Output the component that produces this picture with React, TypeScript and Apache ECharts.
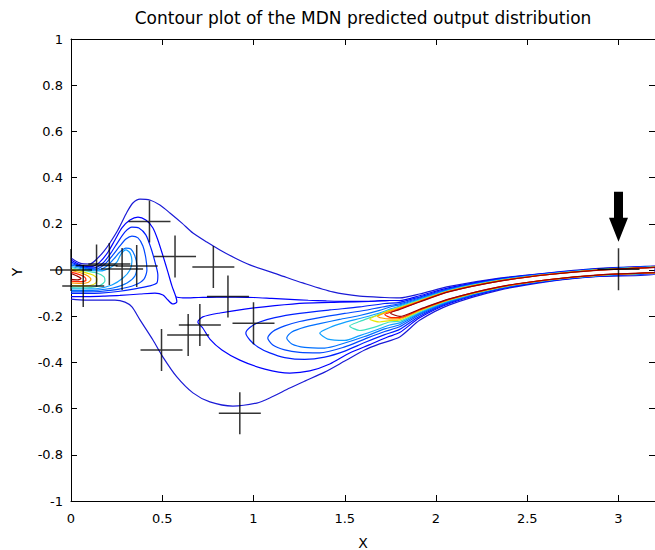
import React, { useEffect, useRef } from "react";
import * as echarts from "echarts";

const TITLE = "Contour plot of the MDN predicted output distribution";
const X_LABEL = "X";
const Y_LABEL = "Y";

// jet-like contour level colours, outermost (1) to innermost (11)
const LEVEL_COLORS = [
  "#1a1ad6", "#0000ff", "#0020ff", "#0048ff", "#0070ff", "#10a0ff",
  "#40e0c0", "#e6e600", "#ff9900", "#ff2200", "#990000",
];

// training points (crosses)
const CROSS_X = [0.0, 0.067, 0.14, 0.21, 0.28, 0.36, 0.43, 0.57, 0.78, 0.86, 1.0, 0.706, 0.642, 0.496, 0.925, 3.0];
const CROSS_Y = [0.0, -0.069, 0.02, 0.026, 0.004, 0.017, 0.21, 0.058, 0.013, -0.115, -0.23, -0.238, -0.281, -0.346, -0.62, 0.003];

// arrow annotation position
const ARROW_AT = [3.0, 0.23];

// contour lines, traced as [x, y]
const L1_OUTER = [[0,0.052],[0.049,0.030],[0.104,0.026],[0.142,0.048],[0.181,0.082],[0.213,0.117],[0.257,0.173],[0.307,0.251],[0.339,0.290],[0.378,0.307],[0.432,0.303],[0.487,0.281],[0.542,0.247],[0.608,0.203],[0.668,0.160],[0.744,0.121],[0.816,0.087],[0.898,0.052],[0.980,0.022],[1.144,-0.022],[1.270,-0.056],[1.434,-0.095],[1.582,-0.113],[1.719,-0.119],[1.801,-0.121],[1.910,-0.104],[2.074,-0.071],[2.348,-0.035],[2.622,-0.012],[2.895,0.007],[3.2,0.017],
  [3.2,-0.017],[2.895,-0.028],[2.622,-0.049],[2.348,-0.087],[2.074,-0.151],[1.910,-0.218],[1.801,-0.290],[1.691,-0.320],[1.609,-0.346],[1.500,-0.394],[1.390,-0.442],[1.281,-0.481],[1.199,-0.511],[1.089,-0.554],[1.018,-0.576],[0.887,-0.589],[0.761,-0.571],[0.668,-0.532],[0.580,-0.463],[0.504,-0.377],[0.449,-0.303],[0.378,-0.216],[0.334,-0.160],[0.296,-0.139],[0.241,-0.130],[0.159,-0.130],[0.077,-0.130],[0,-0.126]];

const L2_HUMP = [[0,0.043],[0.060,0.019],[0.115,0.015],[0.159,0.035],[0.203,0.078],[0.241,0.130],[0.279,0.182],[0.323,0.216],[0.367,0.229],[0.410,0.216],[0.449,0.182],[0.476,0.130],[0.504,0.061],[0.531,-0.009],[0.553,-0.069],[0.575,-0.117],[0.580,-0.139],[0.558,-0.147],[0.531,-0.130],[0.504,-0.108],[0.460,-0.100],[0.378,-0.104],[0.268,-0.110],[0.186,-0.113],[0.104,-0.115],[0,-0.115]];
const L2_UPPER = [[0.575,-0.117],[0.62,-0.121],[0.70,-0.119],[0.80,-0.117],[0.90,-0.117],[1.00,-0.119],[1.10,-0.123],[1.20,-0.127],[1.30,-0.131],[1.40,-0.134],[1.50,-0.136],[1.60,-0.136],[1.70,-0.133],[1.746,-0.132]];
const L2_RIDGE = [[3.2,0.016],[2.895,0.005],[2.622,-0.0137],[2.348,-0.0377],[2.074,-0.0764],[1.910,-0.1115],[1.801,-0.1322],[1.746,-0.132],[1.637,-0.136],[1.472,-0.139],[1.281,-0.143],[1.117,-0.154],[0.952,-0.169],[0.816,-0.186],[0.722,-0.203],[0.695,-0.225],[0.722,-0.251],[0.761,-0.299],[0.827,-0.346],[0.925,-0.390],[1.062,-0.429],[1.199,-0.446],[1.308,-0.437],[1.418,-0.407],[1.527,-0.359],[1.637,-0.323],[1.735,-0.290],[1.801,-0.271],[1.910,-0.207],[2.074,-0.145],[2.348,-0.0835],[2.622,-0.0469],[2.895,-0.0266],[3.2,-0.016]];

const L3_HUMP = [[0,0.035],[0.071,0.013],[0.126,0.009],[0.175,0.030],[0.219,0.074],[0.257,0.121],[0.296,0.165],[0.334,0.186],[0.372,0.182],[0.410,0.152],[0.438,0.095],[0.460,0.035],[0.476,-0.022],[0.471,-0.056],[0.432,-0.069],[0.350,-0.082],[0.257,-0.093],[0.159,-0.100],[0.077,-0.101],[0,-0.101]];
const L3_RIDGE = [[3.2,0.015],[2.895,0.0039],[2.622,-0.0149],[2.348,-0.0399],[2.074,-0.080],[1.910,-0.1171],[1.801,-0.1401],[1.719,-0.145],[1.582,-0.160],[1.418,-0.173],[1.253,-0.188],[1.117,-0.206],[1.034,-0.225],[0.980,-0.249],[0.958,-0.273],[0.980,-0.303],[1.024,-0.333],[1.089,-0.359],[1.171,-0.379],[1.281,-0.387],[1.390,-0.377],[1.500,-0.351],[1.609,-0.314],[1.719,-0.280],[1.801,-0.257],[1.910,-0.200],[2.074,-0.141],[2.348,-0.0813],[2.622,-0.0457],[2.895,-0.0255],[3.2,-0.015]];

const L4_HUMP = [[0,0.028],[0.082,0.009],[0.137,0.004],[0.186,0.026],[0.230,0.065],[0.268,0.104],[0.301,0.134],[0.334,0.147],[0.367,0.139],[0.394,0.104],[0.410,0.052],[0.416,0],[0.400,-0.039],[0.350,-0.065],[0.257,-0.084],[0.159,-0.093],[0.077,-0.095],[0,-0.095]];
const L4_RIDGE = [[3.2,0.0143],[2.895,0.003],[2.622,-0.0158],[2.348,-0.0416],[2.074,-0.0827],[1.910,-0.1212],[1.801,-0.1461],[1.746,-0.154],[1.637,-0.171],[1.500,-0.188],[1.363,-0.206],[1.253,-0.223],[1.171,-0.242],[1.106,-0.266],[1.078,-0.294],[1.106,-0.325],[1.171,-0.346],[1.253,-0.357],[1.363,-0.359],[1.500,-0.333],[1.609,-0.299],[1.719,-0.266],[1.801,-0.246],[1.910,-0.194],[2.074,-0.138],[2.348,-0.0797],[2.622,-0.0448],[2.895,-0.0247],[3.2,-0.0143]];

const L5_HUMP = [[0,0.022],[0.093,0.004],[0.148,0],[0.197,0.017],[0.235,0.048],[0.268,0.078],[0.301,0.095],[0.328,0.091],[0.350,0.061],[0.361,0.017],[0.350,-0.026],[0.307,-0.056],[0.230,-0.078],[0.148,-0.087],[0.077,-0.089],[0,-0.089]];
const L5_RIDGE = [[3.2,0.0137],[2.895,0.0023],[2.622,-0.0165],[2.348,-0.0429],[2.074,-0.0849],[1.910,-0.1247],[1.801,-0.1511],[1.757,-0.158],[1.691,-0.175],[1.582,-0.197],[1.472,-0.214],[1.363,-0.232],[1.281,-0.247],[1.210,-0.268],[1.182,-0.294],[1.210,-0.320],[1.281,-0.335],[1.390,-0.338],[1.500,-0.316],[1.609,-0.288],[1.719,-0.255],[1.801,-0.237],[1.910,-0.189],[2.074,-0.135],[2.348,-0.0783],[2.622,-0.0441],[2.895,-0.024],[3.2,-0.0137]];

const L6_HUMP = [[0,0.015],[0.093,0],[0.159,-0.004],[0.213,0.009],[0.252,0.035],[0.274,0.069],[0.301,0.087],[0.323,0.074],[0.334,0.039],[0.323,0],[0.285,-0.035],[0.224,-0.065],[0.148,-0.080],[0.077,-0.082],[0,-0.082]];
const L6_RIDGE = [[3.2,0.0131],[2.895,0.0017],[2.622,-0.0172],[2.348,-0.0442],[2.074,-0.087],[1.910,-0.1278],[1.801,-0.1555],[1.757,-0.167],[1.691,-0.186],[1.582,-0.210],[1.500,-0.227],[1.418,-0.249],[1.363,-0.273],[1.407,-0.299],[1.500,-0.305],[1.582,-0.284],[1.664,-0.262],[1.746,-0.238],[1.801,-0.229],[1.910,-0.185],[2.074,-0.133],[2.348,-0.077],[2.622,-0.0434],[2.895,-0.0234],[3.2,-0.0131]];

const L7_HUMP = [[0,0.011],[0.082,-0.004],[0.142,-0.013],[0.181,-0.030],[0.186,-0.048],[0.159,-0.067],[0.104,-0.076],[0.049,-0.077],[0,-0.076]];
const L7_RIDGE = [[3.2,0.0126],[2.895,0.0012],[2.622,-0.0178],[2.348,-0.0453],[2.074,-0.0887],[1.910,-0.1306],[1.801,-0.1595],[1.746,-0.173],[1.664,-0.199],[1.582,-0.223],[1.527,-0.242],[1.582,-0.262],[1.664,-0.247],[1.746,-0.225],[1.801,-0.222],[1.910,-0.181],[2.074,-0.131],[2.348,-0.0759],[2.622,-0.0428],[2.895,-0.0228],[3.2,-0.0126]];

const L8_HUMP = [[0,0.004],[0.071,-0.009],[0.120,-0.022],[0.142,-0.039],[0.137,-0.056],[0.104,-0.067],[0.049,-0.069],[0,-0.067]];
const L8_RIDGE = [[3.2,0.0122],[2.895,0.0007],[2.622,-0.0183],[2.348,-0.0463],[2.074,-0.0903],[1.910,-0.133],[1.801,-0.163],[1.746,-0.175],[1.691,-0.193],[1.637,-0.212],[1.691,-0.225],[1.746,-0.219],[1.801,-0.216],[1.910,-0.177],[2.074,-0.129],[2.348,-0.0749],[2.622,-0.0423],[2.895,-0.0223],[3.2,-0.0122]];

const L9_HUMP = [[0,-0.002],[0.055,-0.013],[0.093,-0.026],[0.109,-0.041],[0.093,-0.054],[0.049,-0.058],[0,-0.056]];
const L9_RIDGE = [[3.2,0.0119],[2.895,0.0003],[2.622,-0.0187],[2.348,-0.0471],[2.074,-0.0917],[1.910,-0.1351],[1.801,-0.166],[1.741,-0.180],[1.680,-0.201],[1.741,-0.212],[1.801,-0.210],[1.910,-0.174],[2.074,-0.127],[2.348,-0.0741],[2.622,-0.0419],[2.895,-0.0219],[3.2,-0.0119]];

const L10_HUMP = [[0,-0.009],[0.044,-0.019],[0.077,-0.032],[0.082,-0.045],[0.049,-0.050],[0,-0.048]];
const L10_RIDGE = [[3.2,0.0116],[2.895,-0.0001],[2.622,-0.0191],[2.348,-0.0478],[2.074,-0.0928],[1.910,-0.1368],[1.801,-0.1685],[1.757,-0.181],[1.719,-0.193],[1.757,-0.206],[1.801,-0.206],[1.910,-0.172],[2.074,-0.126],[2.348,-0.0734],[2.622,-0.0415],[2.895,-0.0216],[3.2,-0.0116]];

const L11_HUMP = [[0,-0.015],[0.033,-0.026],[0.055,-0.037],[0.038,-0.043],[0,-0.041]];
const L11_RIDGE = [[3.2,0.0113],[2.895,-0.0004],[2.622,-0.0195],[2.348,-0.0485],[2.074,-0.0939],[1.910,-0.1385],[1.801,-0.171],[1.751,-0.186],[1.801,-0.201],[1.910,-0.170],[2.074,-0.125],[2.348,-0.0727],[2.622,-0.0411],[2.895,-0.0212],[3.2,-0.0113]];

const CONTOURS: { level: number; pts: number[][] }[] = [
  { level: 1, pts: L1_OUTER },
  { level: 2, pts: L2_HUMP }, { level: 2, pts: L2_UPPER }, { level: 2, pts: L2_RIDGE },
  { level: 3, pts: L3_HUMP }, { level: 3, pts: L3_RIDGE },
  { level: 4, pts: L4_HUMP }, { level: 4, pts: L4_RIDGE },
  { level: 5, pts: L5_HUMP }, { level: 5, pts: L5_RIDGE },
  { level: 6, pts: L6_HUMP }, { level: 6, pts: L6_RIDGE },
  { level: 7, pts: L7_HUMP }, { level: 7, pts: L7_RIDGE },
  { level: 8, pts: L8_HUMP }, { level: 8, pts: L8_RIDGE },
  { level: 9, pts: L9_HUMP }, { level: 9, pts: L9_RIDGE },
  { level: 10, pts: L10_HUMP }, { level: 10, pts: L10_RIDGE },
  { level: 11, pts: L11_HUMP }, { level: 11, pts: L11_RIDGE },
];

const FONT = "DejaVu Sans";

export default function App() {
  const ref = useRef<HTMLDivElement>(null);
  useEffect(() => {
    if (!ref.current) return;
    const chart = echarts.init(ref.current, null, { renderer: "svg" });
    const fmt = (v: number) => String(Math.round(v * 10) / 10);
    const axisCommon = {
      type: "value" as const,
      axisLine: { show: true, onZero: false, lineStyle: { color: "#000", width: 1 } },
      axisTick: { show: true, inside: true, length: 6, lineStyle: { color: "#000", width: 1 } },
      splitLine: { show: false },
    };
    const lineSeries = CONTOURS.map((c) => ({
      type: "line",
      data: c.pts,
      showSymbol: false,
      symbol: "none",
      silent: true,
      clip: true,
      smooth: 0.25,
      z: 2 + c.level,
      lineStyle: { color: LEVEL_COLORS[c.level - 1], width: 1.2 },
      animation: false,
    }));
    chart.setOption({
      animation: false,
      backgroundColor: "#fff",
      grid: { left: 71, top: 39, width: 584.6, height: 462, containLabel: false },
      xAxis: [
        {
          ...axisCommon, position: "bottom", min: 0, max: 3.2, interval: 0.5,
          axisLabel: { color: "#000", fontSize: 13, fontFamily: FONT, margin: 11, showMaxLabel: false, formatter: fmt },
        },
        {
          ...axisCommon, position: "top", min: 0, max: 3.2, interval: 0.5,
          axisLabel: { show: false },
        },
      ],
      yAxis: [
        {
          ...axisCommon, position: "left", min: -1, max: 1, interval: 0.2,
          axisLabel: { color: "#000", fontSize: 13, fontFamily: FONT, margin: 8, formatter: fmt },
        },
        {
          ...axisCommon, position: "right", min: -1, max: 1, interval: 0.2,
          axisLabel: { show: false },
        },
      ],
      graphic: [
        {
          type: "text", x: 363, y: 18,
          style: { text: TITLE, fill: "#000", fontSize: 17, fontFamily: FONT, align: "center", verticalAlign: "middle" },
        },
        {
          type: "text", x: 363, y: 543,
          style: { text: X_LABEL, fill: "#000", fontSize: 14, fontFamily: FONT, align: "center", verticalAlign: "middle" },
        },
        {
          type: "text", x: 17, y: 272, rotation: Math.PI / 2,
          style: { text: Y_LABEL, fill: "#000", fontSize: 14, fontFamily: FONT, align: "center", verticalAlign: "middle" },
        },
      ],
      series: [
        ...lineSeries,
        {
          type: "scatter",
          data: CROSS_X.map((x, i) => [x, CROSS_Y[i]]),
          symbol: "path://M21,0L21,42M0,21L42,21",
          symbolSize: 42,
          clip: false,
          silent: true,
          z: 30,
          itemStyle: { color: "rgba(0,0,0,0)", borderColor: "#000", borderWidth: 1.5 },
          markPoint: {
            silent: true,
            symbol: "path://M5,0L14,0L14,26L19,26L9.5,50L0,26L5,26Z",
            symbolSize: [19, 50],
            itemStyle: { color: "#000", borderWidth: 0 },
            label: { show: false },
            data: [{ coord: ARROW_AT }],
          },
        },
      ],
    });
    return () => chart.dispose();
  }, []);
  return (
    <div
      ref={ref}
      style={{ position: "fixed", left: 0, top: 0, width: 655, height: 550, background: "#fff" }}
    />
  );
}
